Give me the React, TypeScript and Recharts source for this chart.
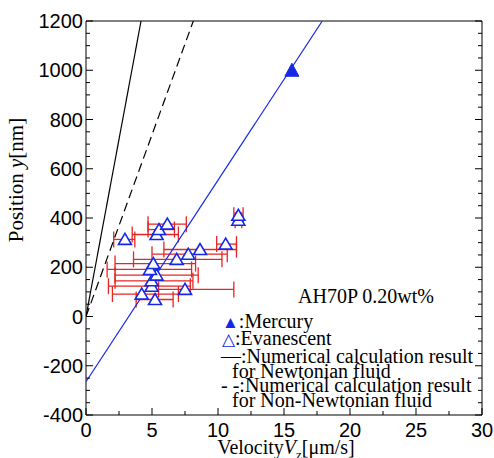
import React from "react";
import { ComposedChart, Scatter, XAxis, YAxis, ErrorBar } from "recharts";

const velocity = [5.23, 4.22, 7.5, 4.97, 4.97, 5.35, 4.85, 5.1, 6.87, 7.75, 8.64, 10.58, 2.95, 5.35, 5.53, 6.16, 11.54, 11.54];
const position = [69, 91, 110, 123, 145, 168, 191, 215, 232, 253, 272, 294, 313, 333, 353, 375, 391, 411];
const velocityLow = [3.8, 2.0, 5.5, 1.7, 2.2, 2.2, 1.6, 2.2, 3.6, 5.0, 5.9, 9.9, 2.1, 3.5, 4.7, 4.7, 11.3, 11.2];
const velocityHigh = [6.6, 7.0, 11.2, 7.9, 8.1, 8.5, 8.0, 8.3, 10.3, 10.7, 11.4, 11.4, 3.7, 7.0, 6.7, 7.6, 11.8, 11.9];

// Mercury measurement
const mercuryVelocity = [15.6];
const mercuryPosition = [1000];

// Lines: numerical results and fit through mercury point
const newtonianV = [0, 4.17];
const newtonianY = [0, 1200];
const nonNewtonianV = [0, 8.13];
const nonNewtonianY = [0, 1200];
const fitV = [0, 17.9];
const fitY = [-265, 1200];

// Axis ticks
const xTicks = [0, 2.5, 5, 7.5, 10, 12.5, 15, 17.5, 20, 22.5, 25, 27.5, 30];
const xLabels = [0, 5, 10, 15, 20, 25, 30];
const yTicks = [
  -400, -350, -300, -250, -200, -150, -100, -50, 0, 50, 100, 150, 200, 250, 300, 350, 400,
  450, 500, 550, 600, 650, 700, 750, 800, 850, 900, 950, 1000, 1050, 1100, 1150, 1200,
];
const yLabels = [-400, -200, 0, 200, 400, 600, 800, 1000, 1200];

const BLUE = "#1428e6";
const RED = "#e82424";
const SANS = "'Liberation Sans', Arial, sans-serif";
const SERIF = "'Liberation Serif', 'Times New Roman', serif";

const evanescent = velocity.map((v, i) => ({
  x: v,
  y: position[i],
  err: [v - velocityLow[i], velocityHigh[i] - v],
}));
const mercury = mercuryVelocity.map((v, i) => ({ x: v, y: mercuryPosition[i] }));
const toPts = (xs: number[], ys: number[]) => xs.map((x, i) => ({ x, y: ys[i] }));

const OpenTriangle = (p: any) => (
  <polygon
    points={`${p.cx},${p.cy - 6} ${p.cx - 6.5},${p.cy + 5} ${p.cx + 6.5},${p.cy + 5}`}
    fill="#fff"
    stroke={BLUE}
    strokeWidth={1.6}
  />
);

const FilledTriangle = (p: any) => (
  <polygon
    points={`${p.cx},${p.cy - 7} ${p.cx - 7},${p.cy + 6} ${p.cx + 7},${p.cy + 6}`}
    fill={BLUE}
    stroke={BLUE}
  />
);

const NoDot = () => <g />;

function XTick(props: any) {
  const { x, y, payload, side } = props;
  const major = xLabels.includes(payload.value);
  const len = major ? 7 : 4;
  const dir = side === "bottom" ? -1 : 1;
  return (
    <g>
      <line x1={x} y1={y} x2={x} y2={y + dir * len} stroke="#000" />
      {side === "bottom" && major && (
        <text x={x} y={y + 22} textAnchor="middle" fontSize={20} fontFamily={SANS} fill="#000">
          {payload.value}
        </text>
      )}
    </g>
  );
}

function YTick(props: any) {
  const { x, y, payload, side } = props;
  const major = yLabels.includes(payload.value);
  const len = major ? 7 : 4;
  const dir = side === "left" ? 1 : -1;
  return (
    <g>
      <line x1={x} y1={y} x2={x + dir * len} y2={y} stroke="#000" />
      {side === "left" && major && (
        <text x={x - 3} y={y + 7} textAnchor="end" fontSize={20} fontFamily={SANS} fill="#000">
          {payload.value}
        </text>
      )}
    </g>
  );
}

const legendLine: React.CSSProperties = {
  position: "absolute",
  fontFamily: SERIF,
  fontSize: 20,
  lineHeight: "18px",
  whiteSpace: "nowrap",
  color: "#000",
};

export default function App() {
  return (
    <div style={{ position: "absolute", left: 0, top: 0, width: 494, height: 458, background: "#fff" }}>
      <ComposedChart width={494} height={458} margin={{ top: 11, right: 2, bottom: 13, left: 46 }}>
        <XAxis
          type="number"
          dataKey="x"
          domain={[0, 30]}
          ticks={xTicks}
          interval={0}
          height={30}
          tickSize={0}
          tickMargin={0}
          tickLine={false}
          axisLine={{ stroke: "#000" }}
          allowDataOverflow
          tick={(p: any) => <XTick {...p} side="bottom" />}
        />
        <XAxis
          xAxisId="top"
          orientation="top"
          type="number"
          domain={[0, 30]}
          ticks={xTicks}
          interval={0}
          height={10}
          tickSize={0}
          tickMargin={0}
          tickLine={false}
          axisLine={{ stroke: "#000" }}
          allowDataOverflow
          tick={(p: any) => <XTick {...p} side="top" />}
        />
        <YAxis
          type="number"
          dataKey="y"
          domain={[-400, 1200]}
          ticks={yTicks}
          interval={0}
          width={40}
          tickSize={0}
          tickMargin={0}
          tickLine={false}
          axisLine={{ stroke: "#000" }}
          allowDataOverflow
          tick={(p: any) => <YTick {...p} side="left" />}
        />
        <YAxis
          yAxisId="right"
          orientation="right"
          type="number"
          domain={[-400, 1200]}
          ticks={yTicks}
          interval={0}
          width={10}
          tickSize={0}
          tickMargin={0}
          tickLine={false}
          axisLine={{ stroke: "#000" }}
          allowDataOverflow
          tick={(p: any) => <YTick {...p} side="right" />}
        />
        <Scatter
          data={toPts(newtonianV, newtonianY)}
          line={{ stroke: "#000", strokeWidth: 1.2 }}
          shape={NoDot}
          isAnimationActive={false}
        />
        <Scatter
          data={toPts(nonNewtonianV, nonNewtonianY)}
          line={{ stroke: "#000", strokeWidth: 1.2, strokeDasharray: "9 5" }}
          shape={NoDot}
          isAnimationActive={false}
        />
        <Scatter
          data={toPts(fitV, fitY)}
          line={{ stroke: BLUE, strokeWidth: 1.2 }}
          shape={NoDot}
          isAnimationActive={false}
        />
        <Scatter data={evanescent} shape={OpenTriangle} isAnimationActive={false}>
          <ErrorBar dataKey="err" direction="x" width={8} stroke={RED} strokeWidth={1.3} />
        </Scatter>
        <Scatter data={mercury} shape={FilledTriangle} isAnimationActive={false} />
      </ComposedChart>

      {/* axis titles */}
      <div
        style={{
          position: "absolute",
          left: 0,
          top: 437,
          width: 572,
          textAlign: "center",
          fontFamily: SERIF,
          fontSize: 20,
          lineHeight: "20px",
          whiteSpace: "nowrap",
        }}
      >
        Velocity<i>V</i>
        <sub style={{ fontSize: 13, lineHeight: 0 }}>z</sub>[μm/s]
      </div>
      <div
        style={{
          position: "absolute",
          left: 16,
          top: 180,
          transform: "translate(-50%, -50%) rotate(-90deg)",
          fontFamily: SERIF,
          fontSize: 21,
          lineHeight: "21px",
          whiteSpace: "nowrap",
        }}
      >
        Position <i>y</i>[nm]
      </div>

      {/* legend */}
      <div style={{ ...legendLine, left: 298, top: 287 }}>AH70P 0.20wt%</div>
      <div style={{ ...legendLine, left: 222, top: 312 }}>
        <span style={{ color: BLUE, fontSize: 17 }}>▲</span>:Mercury
      </div>
      <div style={{ ...legendLine, left: 222, top: 329 }}>
        <span style={{ color: BLUE, fontSize: 17 }}>△</span>:Evanescent
      </div>
      <div style={{ ...legendLine, left: 221, top: 347 }}>—:Numerical calculation result</div>
      <div style={{ ...legendLine, left: 232, top: 362 }}>for Newtonian fluid</div>
      <div style={{ ...legendLine, left: 221, top: 376 }}>- -:Numerical calculation result</div>
      <div style={{ ...legendLine, left: 232, top: 391 }}>for Non-Newtonian fluid</div>
    </div>
  );
}
